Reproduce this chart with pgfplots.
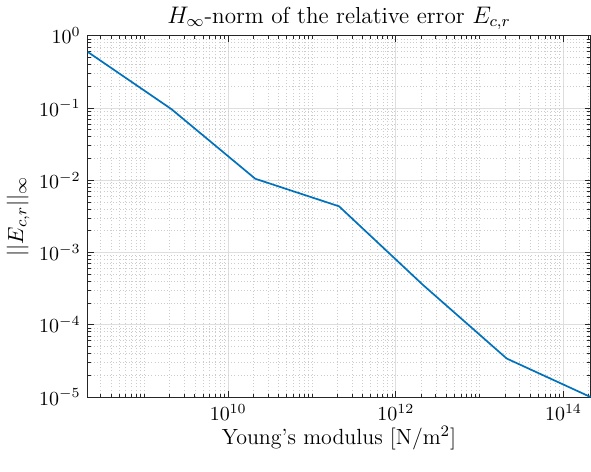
\documentclass[border={0pt 7.5pt 0pt 0pt}]{standalone}
\usepackage{pgfplots}
\pgfplotsset{compat=1.18}
\definecolor{mblue}{HTML}{0072BD}
\definecolor{axgray}{HTML}{262626}
\begin{document}
\begin{tikzpicture}
\begin{loglogaxis}[
  scale only axis,width=252pt,height=181pt,
  xmin=2.1e8,xmax=2.1e14,ymin=1e-5,ymax=1,
  xtick={1e10,1e12,1e14},
  minor xtick={3e8,4e8,5e8,6e8,7e8,8e8,9e8,
    1e9,2e9,3e9,4e9,5e9,6e9,7e9,8e9,9e9,
    2e10,3e10,4e10,5e10,6e10,7e10,8e10,9e10,
    1e11,2e11,3e11,4e11,5e11,6e11,7e11,8e11,9e11,
    2e12,3e12,4e12,5e12,6e12,7e12,8e12,9e12,
    1e13,2e13,3e13,4e13,5e13,6e13,7e13,8e13,9e13,
    2e14},
  ytick={1e-5,1e-4,1e-3,1e-2,1e-1,1},
  grid=both,
  major grid style={draw=black!13,line width=0.4pt},
  minor grid style={draw=black!20,line width=0.35pt,dash pattern=on 0.5pt off 1.1pt},
  tick align=inside,major tick length=3pt,minor tick length=1.7pt,
  axis line style={draw=axgray,line width=0.5pt},
  every tick/.style={draw=axgray,line width=0.4pt},
  tick label style={font=\normalsize},
  label style={font=\fontsize{11}{13}\selectfont},
  title style={font=\fontsize{11.6}{14}\selectfont,yshift=-6.5pt},
  title={$H_\infty$-norm of the relative error $E_{c,r}$},
  xlabel={Young's modulus [N/m$^2$]},
  ylabel={$||E_{c,r}||_\infty$},
  ylabel style={yshift=-2pt},
  xlabel style={yshift=4pt},
]
\addplot[mblue,line width=0.85pt] coordinates {
  (2.1e8,0.6) (2.1e9,0.0966) (2.1e10,0.0105) (2.1e11,0.00436)
  (2.1e12,3.57e-4) (2.1e13,3.41e-5) (2.1e14,1.0e-5)
};
\end{loglogaxis}
\end{tikzpicture}
\end{document}
